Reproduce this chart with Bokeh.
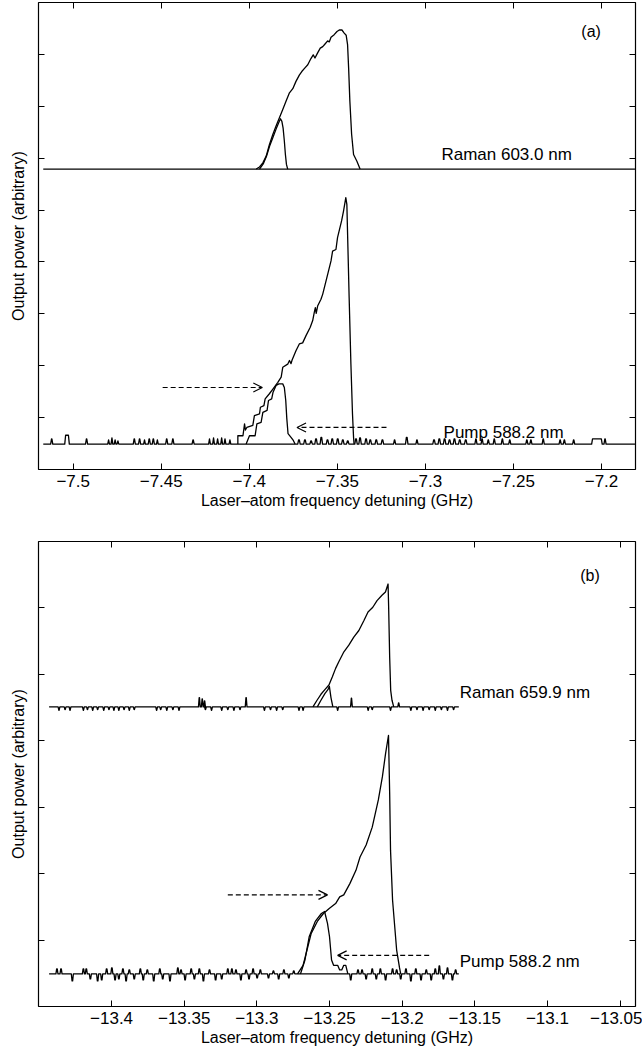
from bokeh.plotting import figure
from bokeh.models import (Range1d, FixedTicker, LinearAxis, Label, Arrow, OpenHead,
                          CustomJSTickFormatter)
from bokeh.layouts import column
from bokeh.embed import file_html
from bokeh.resources import INLINE

FONT = "Liberation Sans"
INK = "black"

# ---------------- panel (a): Raman 603.0 nm / pump 588.2 nm ----------------
a_xticks = [-7.5, -7.45, -7.4, -7.35, -7.3, -7.25, -7.2]
a_yticks = [1, 2, 3, 4, 5, 6, 7, 8]

raman_a_base = 5.79
raman_a_up_x = [-7.3961, -7.3942, -7.3923, -7.3904, -7.3886, -7.3866, -7.3848, -7.3829, -7.3810,
                -7.3791, -7.3772, -7.3753, -7.3735, -7.3716, -7.3702, -7.3684, -7.3668, -7.3650,
                -7.3637, -7.3627, -7.3612, -7.3597, -7.3583, -7.3570, -7.3555, -7.3546, -7.3536,
                -7.3518, -7.3502, -7.3489, -7.3474, -7.3461, -7.3450, -7.3442, -7.3436, -7.3429,
                -7.3419, -7.3408, -7.3389, -7.3371]
raman_a_up_y = [5.79, 5.83, 5.91, 6.04, 6.26, 6.46, 6.62, 6.78, 6.94,
                7.10, 7.26, 7.34, 7.48, 7.60, 7.67, 7.74, 7.80, 7.92,
                7.99, 7.93, 8.03, 8.12, 8.15, 8.20, 8.26, 8.24, 8.33,
                8.38, 8.44, 8.47, 8.47, 8.41, 8.37, 8.19, 7.74, 7.10,
                6.46, 6.07, 5.94, 5.79]
raman_a_down_x = [-7.3942, -7.3921, -7.3902, -7.3885, -7.3866, -7.3848, -7.3832, -7.3823, -7.3815,
                  -7.3808, -7.3801, -7.3795, -7.3789, -7.3782]
raman_a_down_y = [5.79, 5.89, 6.04, 6.23, 6.40, 6.56, 6.69, 6.76, 6.71,
                  6.58, 6.33, 6.07, 5.88, 5.79]

pump_a_base = 0.49
pump_a_up_x = [-7.4065, -7.4065, -7.4036, -7.4027, -7.4022, -7.4014, -7.3980, -7.3971, -7.3942,
               -7.3937, -7.3917, -7.3910, -7.3886, -7.3866, -7.3838, -7.3819, -7.3810, -7.3782,
               -7.3772, -7.3763, -7.3757, -7.3735, -7.3716, -7.3697, -7.3678, -7.3654, -7.3640,
               -7.3631, -7.3625, -7.3620, -7.3612, -7.3593, -7.3583, -7.3555, -7.3536, -7.3527,
               -7.3508, -7.3499, -7.3476, -7.3465, -7.3452, -7.3446, -7.3440, -7.3433, -7.3423,
               -7.3414, -7.3408, -7.3405]
pump_a_up_y = [0.49, 0.65, 0.65, 0.88, 0.76, 0.81, 0.85, 1.04, 1.07,
               1.20, 1.23, 1.36, 1.46, 1.55, 1.68, 1.78, 1.97, 2.03,
               2.10, 2.04, 2.11, 2.29, 2.42, 2.44, 2.58, 2.74, 2.87,
               3.03, 3.12, 3.01, 3.15, 3.28, 3.38, 3.76, 4.02, 4.21,
               4.24, 4.47, 4.79, 4.98, 5.24, 5.11, 4.28, 3.31, 2.03,
               1.07, 0.62, 0.49]
pump_a_down_x = [-7.4018, -7.3999, -7.3967, -7.3957, -7.3933, -7.3923, -7.3899, -7.3891, -7.3873,
                 -7.3865, -7.3848, -7.3832, -7.3810, -7.3801, -7.3793, -7.3787, -7.3780, -7.3763,
                 -7.3750, -7.3740]
pump_a_down_y = [0.49, 0.65, 0.65, 0.88, 0.91, 1.10, 1.14, 1.33, 1.36,
                 1.49, 1.62, 1.65, 1.65, 1.58, 1.33, 0.98, 0.69, 0.62,
                 0.56, 0.49]
# detector noise spikes on the pump baseline: position (GHz), height and half-width
pump_a_spike_x = [-7.5122, -7.5035, -7.4924, -7.4799, -7.4780, -7.4762, -7.4746, -7.4653, -7.4623,
                  -7.4595, -7.4568, -7.4545, -7.4522, -7.4469, -7.4434, -7.4319, -7.4226, -7.4203,
                  -7.4180, -7.4157, -7.4138, -7.4110, -7.3718, -7.3684, -7.3649, -7.3621, -7.3591,
                  -7.3556, -7.3529, -7.3498, -7.3469, -7.3441, -7.3394, -7.3371, -7.3337, -7.3313,
                  -7.3279, -7.3244, -7.3175, -7.3106, -7.3048, -7.2951, -7.2921, -7.2891, -7.2863,
                  -7.2835, -7.2805, -7.2771, -7.2713, -7.2678, -7.2643, -7.2609, -7.2563, -7.2521,
                  -7.2424, -7.2401, -7.2331, -7.2235, -7.2211, -7.2158, -7.2026, -7.1980]
pump_a_spike_h = [0.10, 0.17, 0.10, 0.08, 0.12, 0.08, 0.06, 0.10, 0.10,
                  0.08, 0.10, 0.10, 0.08, 0.10, 0.10, 0.08, 0.10, 0.12,
                  0.10, 0.12, 0.10, 0.08, 0.08, 0.08, 0.06, 0.10, 0.13,
                  0.08, 0.10, 0.10, 0.08, 0.06, 0.10, 0.12, 0.10, 0.08,
                  0.08, 0.08, 0.08, 0.13, 0.08, 0.08, 0.10, 0.10, 0.08,
                  0.10, 0.08, 0.08, 0.10, 0.10, 0.08, 0.10, 0.10, 0.08,
                  0.08, 0.08, 0.10, 0.08, 0.08, 0.08, 0.10, 0.10]
pump_a_spike_w = [0.0006, 0.0013, 0.0006, 0.0005, 0.0005, 0.0005, 0.0005, 0.0006, 0.0006,
                  0.0005, 0.0006, 0.0006, 0.0005, 0.0006, 0.0006, 0.0006, 0.0005, 0.0005,
                  0.0005, 0.0005, 0.0005, 0.0005, 0.0007, 0.0007, 0.0007, 0.0007, 0.0007,
                  0.0007, 0.0007, 0.0007, 0.0007, 0.0007, 0.0007, 0.0007, 0.0007, 0.0007,
                  0.0007, 0.0007, 0.0006, 0.0007, 0.0006, 0.0007, 0.0007, 0.0007, 0.0007,
                  0.0007, 0.0007, 0.0007, 0.0006, 0.0006, 0.0006, 0.0006, 0.0006, 0.0006,
                  0.0006, 0.0006, 0.0006, 0.0006, 0.0006, 0.0006, 0.0030, 0.0006]

# ---------------- panel (b): Raman 659.9 nm / pump 588.2 nm ----------------
b_xticks = [-13.4, -13.35, -13.3, -13.25, -13.2, -13.15, -13.1, -13.05]
b_yticks = [1, 2, 3, 4, 5, 6]
b_span = [-13.443, -13.161]

raman_b_base = 4.51
raman_b_up_x = [-13.2614, -13.2586, -13.2559, -13.2532, -13.2504, -13.2481, -13.2458, -13.2436,
                -13.2401, -13.2367, -13.2333, -13.2298, -13.2263, -13.2235, -13.2202, -13.2173,
                -13.2139, -13.2115, -13.2097, -13.2093, -13.2086, -13.2079, -13.2070, -13.2058]
raman_b_up_y = [4.51, 4.61, 4.70, 4.77, 4.84, 4.96, 5.09, 5.19,
                5.34, 5.44, 5.56, 5.66, 5.81, 5.94, 6.01, 6.11,
                6.19, 6.24, 6.36, 6.01, 5.26, 4.76, 4.61, 4.51]
raman_b_down_x = [-13.2584, -13.2559, -13.2532, -13.2511, -13.2501, -13.2490, -13.2477]
raman_b_down_y = [4.51, 4.61, 4.71, 4.77, 4.82, 4.65, 4.51]
raman_b_spike_x = [-13.4362, -13.4320, -13.4286, -13.4194, -13.4166, -13.4130, -13.4096, -13.4054,
                   -13.4018, -13.3984, -13.3950, -13.3914, -13.3878, -13.3844, -13.3690, -13.3662,
                   -13.3620, -13.3578, -13.3536, -13.3396, -13.3376, -13.3360, -13.3354, -13.3312,
                   -13.3242, -13.3200, -13.3158, -13.3116, -13.3074, -13.2948, -13.2906, -13.2864,
                   -13.2822, -13.2710, -13.2682, -13.2444, -13.2349, -13.2234, -13.2206, -13.2080,
                   -13.2024, -13.1940, -13.1898, -13.1856, -13.1814, -13.1772, -13.1730, -13.1688,
                   -13.1646]
raman_b_spike_h = [-0.05, -0.04, -0.05, -0.05, -0.04, -0.05, -0.04, -0.05,
                   -0.04, -0.05, -0.05, -0.04, -0.05, -0.04, -0.05, -0.04,
                   -0.05, -0.04, -0.05, 0.14, 0.12, 0.09, -0.04, -0.05,
                   -0.05, -0.04, -0.05, -0.04, 0.14, -0.05, -0.04, -0.05,
                   -0.04, -0.05, -0.05, -0.05, 0.13, -0.05, -0.04, -0.05,
                   0.06, -0.05, -0.04, -0.05, -0.04, -0.05, -0.04, -0.05,
                   -0.04]

pump_b_base = 0.49
pump_b_up_x = [-13.2720, -13.2682, -13.2655, -13.2626, -13.2584, -13.2542, -13.2500, -13.2458,
               -13.2430, -13.2402, -13.2360, -13.2318, -13.2290, -13.2248, -13.2206, -13.2164,
               -13.2136, -13.2114, -13.2094, -13.2086, -13.2080, -13.2066, -13.2038, -13.2018,
               -13.2010]
pump_b_up_y = [0.49, 0.62, 0.85, 1.10, 1.28, 1.40, 1.48, 1.55,
               1.65, 1.68, 1.85, 2.05, 2.25, 2.43, 2.70, 3.11,
               3.46, 3.81, 4.08, 3.21, 2.35, 1.60, 0.85, 0.58,
               0.49]
pump_b_down_x = [-13.2700, -13.2669, -13.2640, -13.2598, -13.2556, -13.2534, -13.2514, -13.2500,
                 -13.2486, -13.2472, -13.2444, -13.2430, -13.2416, -13.2402, -13.2388, -13.2374]
pump_b_down_y = [0.49, 0.70, 1.05, 1.28, 1.40, 1.43, 1.25, 1.05,
                 0.70, 0.62, 0.62, 0.55, 0.55, 0.62, 0.62, 0.49]
pump_b_spike_x = [-13.4376, -13.4348, -13.4270, -13.4194, -13.4174, -13.4146, -13.4096, -13.4068,
                  -13.4034, -13.3998, -13.3976, -13.3950, -13.3922, -13.3900, -13.3878, -13.3844,
                  -13.3802, -13.3782, -13.3754, -13.3710, -13.3668, -13.3648, -13.3598, -13.3544,
                  -13.3522, -13.3494, -13.3452, -13.3430, -13.3396, -13.3368, -13.3326, -13.3284,
                  -13.3242, -13.3200, -13.3172, -13.3144, -13.3110, -13.3074, -13.3054, -13.3026,
                  -13.2998, -13.2976, -13.2920, -13.2886, -13.2850, -13.2814, -13.2780, -13.2746,
                  -13.2354, -13.2304, -13.2276, -13.2248, -13.2206, -13.2178, -13.2150, -13.2114,
                  -13.2066, -13.2038, -13.2010, -13.1974, -13.1940, -13.1906, -13.1870, -13.1834,
                  -13.1800, -13.1772, -13.1744, -13.1716, -13.1688, -13.1654, -13.1632]
pump_b_spike_h = [0.075, 0.075, -0.105, 0.075, 0.075, -0.075, -0.105, -0.09,
                  0.075, 0.09, -0.09, -0.075, 0.075, -0.105, 0.06, -0.075,
                  0.075, -0.09, 0.06, -0.105, 0.075, -0.075, -0.105, 0.09,
                  0.06, -0.09, 0.075, -0.075, 0.075, -0.105, 0.06, -0.09,
                  -0.075, 0.075, 0.075, 0.06, -0.09, 0.06, -0.075, 0.075,
                  -0.06, 0.06, -0.06, 0.045, -0.075, 0.06, -0.06, 0.045,
                  -0.09, 0.06, 0.06, -0.075, 0.075, -0.075, 0.075, -0.09,
                  0.075, 0.06, -0.075, 0.075, -0.105, 0.075, -0.09, 0.06,
                  -0.09, 0.075, 0.12, -0.075, 0.09, -0.09, 0.06]


def baseline_with_spikes(x0, x1, level, sx, sh, sw=None, default_w=0.0006):
    """Flat trace at `level` from x0 to x1 carrying narrow pulses of height sh at sx."""
    if sw is None:
        sw = [default_w] * len(sx)
    xs, ys = [x0], [level]
    for cx, h, w in sorted(zip(sx, sh, sw)):
        e = min(w, 0.0005)
        xs += [cx - w, cx - w + e, cx + w - e, cx + w]
        ys += [level, level + h, level + h, level]
    xs.append(x1)
    ys.append(level)
    return xs, ys


def make_panel(height, xr, yr, xticks, yticks, borders):
    left, right, top, bottom = borders
    p = figure(width=642, height=height, x_range=Range1d(*xr), y_range=Range1d(*yr),
               output_backend="svg", toolbar_location=None,
               min_border_left=left, min_border_right=right,
               min_border_top=top, min_border_bottom=bottom)
    p.grid.visible = False
    p.background_fill_color = "white"
    p.border_fill_color = "white"
    p.outline_line_color = INK
    p.outline_line_width = 1.2

    minus = CustomJSTickFormatter(code="return (tick < 0 ? '\u2212' : '') + Math.abs(tick).toString();")
    xa = p.xaxis[0]
    xa.ticker = FixedTicker(ticks=xticks)
    xa.formatter = minus
    xa.major_tick_in = 6
    xa.major_tick_out = 0
    xa.minor_tick_line_color = None
    xa.axis_line_color = None
    xa.major_tick_line_color = INK
    xa.major_label_text_font = FONT
    xa.major_label_text_font_size = "17px"
    xa.major_label_text_color = INK
    xa.major_label_standoff = 5
    xa.axis_label = "Laser\u2013atom frequency detuning (GHz)"
    xa.axis_label_text_font = FONT
    xa.axis_label_text_font_size = "16px"
    xa.axis_label_text_font_style = "normal"
    xa.axis_label_text_color = INK
    xa.axis_label_standoff = 2

    ya = p.yaxis[0]
    ya.ticker = FixedTicker(ticks=yticks)
    ya.major_tick_in = 6
    ya.major_tick_out = 0
    ya.minor_tick_line_color = None
    ya.axis_line_color = None
    ya.major_tick_line_color = INK
    ya.major_label_text_font_size = "0px"
    ya.major_label_standoff = 0
    ya.axis_label = "Output power (arbitrary)"
    ya.axis_label_text_font = FONT
    ya.axis_label_text_font_size = "16px"
    ya.axis_label_text_font_style = "normal"
    ya.axis_label_text_color = INK
    ya.axis_label_standoff = 12

    top_ax = LinearAxis(ticker=FixedTicker(ticks=xticks), major_tick_in=6, major_tick_out=0,
                        minor_tick_line_color=None, axis_line_color=None,
                        major_tick_line_color=INK, major_label_text_font_size="0px",
                        major_label_standoff=0)
    p.add_layout(top_ax, "above")
    right_ax = LinearAxis(ticker=FixedTicker(ticks=yticks), major_tick_in=6, major_tick_out=0,
                          minor_tick_line_color=None, axis_line_color=None,
                          major_tick_line_color=INK, major_label_text_font_size="0px",
                          major_label_standoff=0)
    p.add_layout(right_ax, "right")
    return p


def trace(p, xs, ys):
    p.line(xs, ys, line_color=INK, line_width=1.3, line_join="round")


def text(p, x, y, s, align="left", baseline="alphabetic", size="17px"):
    p.add_layout(Label(x=x, y=y, text=s, text_font=FONT, text_font_size=size,
                       text_color=INK, text_align=align, text_baseline=baseline))


def dashed_arrow(p, x0, x1, y):
    p.add_layout(Arrow(end=OpenHead(size=9, line_width=1.2, line_color=INK),
                       x_start=x0, y_start=y, x_end=x1, y_end=y,
                       line_color=INK, line_width=1.2, line_dash="5 3"))


# ---- panel (a) ----
pa = make_panel(525, (-7.5197, -7.1807), (0, 9), a_xticks, a_yticks, (37, 7, 2, 56))
trace(pa, [-7.517, -7.181], [raman_a_base, raman_a_base])
trace(pa, raman_a_up_x, raman_a_up_y)
trace(pa, raman_a_down_x, raman_a_down_y)
bx, by = baseline_with_spikes(-7.517, -7.181, pump_a_base, pump_a_spike_x, pump_a_spike_h, pump_a_spike_w)
trace(pa, bx, by)
trace(pa, pump_a_up_x, pump_a_up_y)
trace(pa, pump_a_down_x, pump_a_down_y)
text(pa, -7.2059, 8.44, "(a)", align="center", baseline="middle", size="16px")
text(pa, -7.2909, 6.08, "Raman 603.0 nm")
text(pa, -7.2897, 0.72, "Pump 588.2 nm")
dashed_arrow(pa, -7.4492, -7.3926, 1.58)
dashed_arrow(pa, -7.3221, -7.3729, 0.81)

# ---- panel (b) ----
pb = make_panel(527, (-13.4503, -13.0394), (0, 7), b_xticks, b_yticks, (38, 4, 16, 46))
rx, ry = baseline_with_spikes(b_span[0], b_span[1], raman_b_base, raman_b_spike_x, raman_b_spike_h,
                              default_w=0.0006)
trace(pb, rx, ry)
trace(pb, raman_b_up_x, raman_b_up_y)
trace(pb, raman_b_down_x, raman_b_down_y)
px_, py_ = baseline_with_spikes(b_span[0], b_span[1], pump_b_base, pump_b_spike_x, pump_b_spike_h,
                                default_w=0.0007)
trace(pb, px_, py_)
trace(pb, pump_b_up_x, pump_b_up_y)
trace(pb, pump_b_down_x, pump_b_down_y)
text(pb, -13.0707, 6.49, "(b)", align="center", baseline="middle", size="16px")
text(pb, -13.1604, 4.73, "Raman 659.9 nm")
text(pb, -13.1604, 0.67, "Pump 588.2 nm")
dashed_arrow(pb, -13.3200, -13.2514, 1.68)
dashed_arrow(pb, -13.1814, -13.2444, 0.77)

layout = column(pa, pb, spacing=0)
open("out.html", "w").write(file_html(layout, INLINE))
